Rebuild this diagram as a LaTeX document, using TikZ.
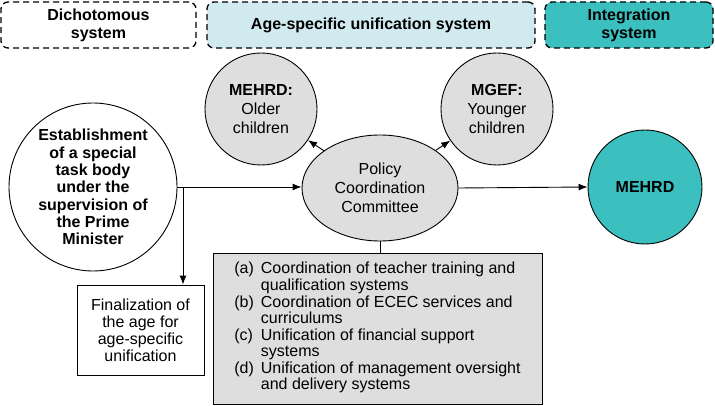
\documentclass[tikz,border=0pt]{standalone}
\usepackage{fontspec}
\setmainfont{Liberation Sans}
\usepackage{xcolor}
\usetikzlibrary{shapes.geometric,arrows.meta}
\definecolor{paleblue}{HTML}{D0EAF0}
\definecolor{tealfill}{HTML}{3BBFBF}
\definecolor{lightgrey}{HTML}{DEDEDE}

\begin{document}
\begin{tikzpicture}[x=1pt, y=-1pt, >={Latex[length=9pt,width=7pt]},%
        every node/.style={align=center, inner sep=0pt, font=\fontsize{16}{19}\selectfont},
        sysbox/.style={draw, line width=1.3pt, dash pattern=on 6pt off 4pt, rounded corners=7pt, minimum height=46pt, font=\fontsize{16}{18}\selectfont\bfseries},
        bigcirc/.style={draw, line width=0.9pt, circle, minimum size=168pt, font=\fontsize{16}{17.3}\selectfont\bfseries},
        greycirc/.style={draw, line width=0.9pt, circle, fill=lightgrey, minimum size=112pt},
        pccshape/.style={draw, line width=0.9pt, ellipse, fill=lightgrey, minimum width=156pt, minimum height=106pt},
        plainbox/.style={draw, line width=0.9pt, rectangle, minimum width=127pt, minimum height=90pt, font=\fontsize{16}{17}\selectfont},
        listbox/.style={draw, line width=0.9pt, rectangle, fill=lightgrey, minimum width=329pt, minimum height=151pt, font=\fontsize{16}{16.5}\selectfont},
        link/.style={line width=0.9pt, ->}]
        % top row
        \node[sysbox, minimum width=195pt] (dicho) at (98.5,25) {Dichotomous\\system};
        \node[sysbox, minimum width=328pt, fill=paleblue] (agesys) at (371,25) {Age-specific unification system};
        \node[sysbox, minimum width=168pt, fill=tealfill] (integ) at (629,25) {Integration\\system};
        % circles
        \node[bigcirc] (task) at (93,187) {Establishment\\of a special\\task body\\under the\\supervision of\\the Prime\\Minister};
        \node[greycirc] (older) at (261,109) {\textbf{MEHRD:}\\Older\\children};
        \node[greycirc] (younger) at (497,109) {\textbf{MGEF:}\\Younger\\children};
        \node[pccshape] (pcc) at (380,188) {Policy\\Coordination\\Committee};
        \node[draw, line width=0.9pt, circle, fill=tealfill, minimum size=114pt, font=\fontsize{16}{19}\selectfont\bfseries] (mehrd) at (645,187) {MEHRD};
        % boxes
        \node[plainbox] (final) at (140.5,330) {Finalization of\\the age for\\age-specific\\unification};
        \node[listbox] (tasks) at (377.5,328.5) {%
            \begin{tabular}{@{}l@{\hspace{7pt}}l@{}}
                (a) & Coordination of teacher training and\\
                    & qualification systems\\
                (b) & Coordination of ECEC services and\\
                    & curriculums\\
                (c) & Unification of financial support\\
                    & systems\\
                (d) & Unification of management oversight\\
                    & and delivery systems
            \end{tabular}};
        % connectors
        \coordinate (branch) at (183,187);
        \draw[link] (task.east |- branch) -- (pcc.west |- branch);
        \draw[link] (branch) -- (branch |- final.north);
        \draw[link] (pcc) -- (older);
        \draw[link] (pcc) -- (younger);
        \draw[link] (pcc.east) -- (mehrd.west);
        \draw[line width=0.9pt] (pcc.south) -- (pcc.south |- tasks.north);
        \useasboundingbox (0,0) rectangle (715,406);
    \end{tikzpicture}
\end{document}
